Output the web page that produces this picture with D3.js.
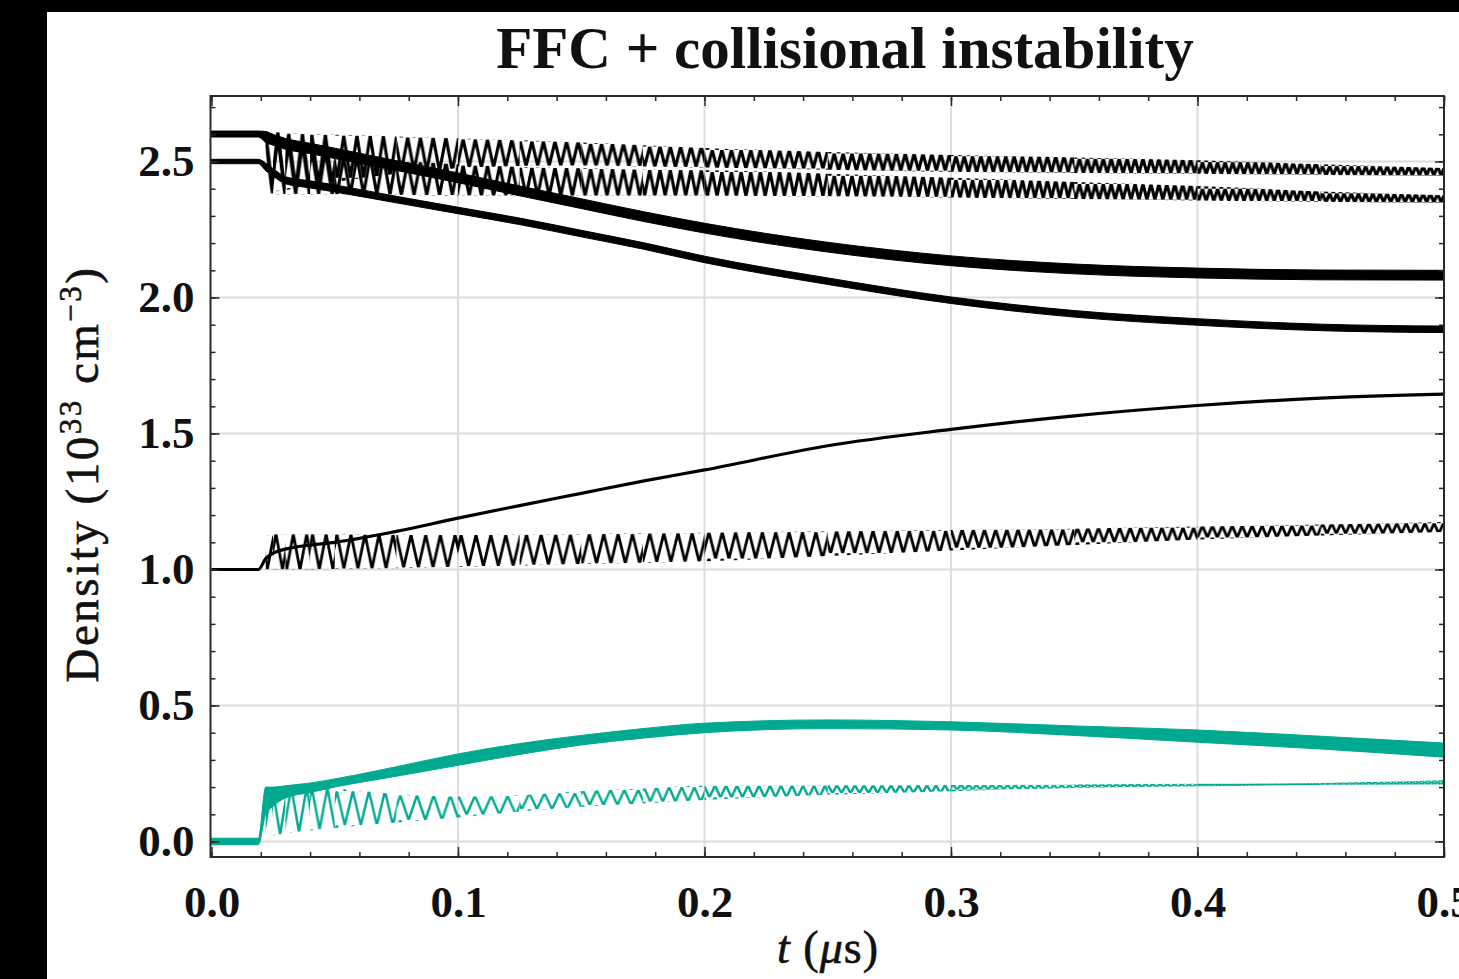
<!DOCTYPE html>
<html>
<head>
<meta charset="utf-8">
<script src="https://cdn.jsdelivr.net/npm/d3@7"></script>
<style>
  html, body { margin: 0; padding: 0; background: #000; }
  svg { display: block; }
</style>
</head>
<body>
<div id="chart"></div>
<script>
// sample times (μs)
const tValues = [0, 0.019, 0.022, 0.025, 0.03, 0.04, 0.05, 0.075, 0.1, 0.125, 0.15, 0.175, 0.2, 0.25, 0.3, 0.35, 0.4, 0.45, 0.5];

// black, oscillating (envelopes)
const oscTopHi = [2.6, 2.6, 2.615, 2.61, 2.605, 2.6, 2.598, 2.592, 2.585, 2.578, 2.57, 2.56, 2.55, 2.535, 2.524, 2.515, 2.505, 2.49, 2.476];
const oscTopLo = [2.6, 2.6, 2.4, 2.39, 2.395, 2.41, 2.425, 2.455, 2.475, 2.483, 2.485, 2.482, 2.478, 2.47, 2.462, 2.458, 2.455, 2.45, 2.447];
const oscMidHi = [2.5, 2.5, 2.6, 2.6, 2.58, 2.55, 2.53, 2.505, 2.49, 2.48, 2.475, 2.47, 2.468, 2.455, 2.44, 2.425, 2.41, 2.39, 2.376];
const oscMidLo = [2.5, 2.5, 2.385, 2.38, 2.38, 2.38, 2.38, 2.378, 2.375, 2.374, 2.374, 2.374, 2.374, 2.372, 2.368, 2.362, 2.357, 2.352, 2.347];
const oscLowHi = [1.0, 1.0, 1.12, 1.13, 1.13, 1.13, 1.13, 1.128, 1.127, 1.128, 1.13, 1.132, 1.135, 1.14, 1.145, 1.15, 1.158, 1.165, 1.175];
const oscLowLo = [1.0, 1.0, 1.0, 1.0, 1.0, 1.0, 1.002, 1.005, 1.01, 1.015, 1.02, 1.025, 1.03, 1.05, 1.07, 1.09, 1.11, 1.125, 1.138];

// black, smooth (thick bands and thin line)
const thickUpperHi = [2.612, 2.612, 2.61, 2.6, 2.585, 2.567, 2.549, 2.503, 2.458, 2.41, 2.363, 2.316, 2.273, 2.203, 2.153, 2.123, 2.108, 2.101, 2.1];
const thickUpperLo = [2.59, 2.59, 2.57, 2.56, 2.545, 2.529, 2.511, 2.467, 2.422, 2.374, 2.327, 2.28, 2.237, 2.167, 2.117, 2.087, 2.072, 2.065, 2.064];
const thickLowerHi = [2.508, 2.508, 2.494, 2.474, 2.444, 2.429, 2.414, 2.372, 2.332, 2.292, 2.247, 2.202, 2.152, 2.072, 2.002, 1.952, 1.922, 1.902, 1.895];
const thickLowerLo = [2.492, 2.492, 2.466, 2.446, 2.418, 2.403, 2.388, 2.348, 2.308, 2.268, 2.223, 2.178, 2.128, 2.048, 1.978, 1.928, 1.898, 1.878, 1.871];
const risingLine = [1.0, 1.0, 1.04, 1.06, 1.075, 1.09, 1.1, 1.14, 1.189, 1.235, 1.28, 1.325, 1.366, 1.455, 1.515, 1.565, 1.603, 1.63, 1.645];

// green
const greenThickHi = [0.012, 0.012, 0.2, 0.2, 0.205, 0.215, 0.23, 0.275, 0.322, 0.36, 0.39, 0.415, 0.435, 0.447, 0.44, 0.425, 0.41, 0.387, 0.362];
const greenThickLo = [-0.012, -0.012, 0.1, 0.13, 0.16, 0.18, 0.2, 0.24, 0.28, 0.32, 0.355, 0.38, 0.4, 0.415, 0.41, 0.39, 0.365, 0.34, 0.31];
const greenOscHi = [0.0, 0.0, 0.15, 0.2, 0.2, 0.2, 0.195, 0.175, 0.165, 0.17, 0.185, 0.195, 0.205, 0.207, 0.208, 0.21, 0.212, 0.215, 0.225];
const greenOscLo = [0.0, 0.0, 0.0, 0.02, 0.03, 0.04, 0.05, 0.07, 0.088, 0.11, 0.128, 0.14, 0.153, 0.172, 0.185, 0.197, 0.203, 0.208, 0.21];

// ticks
const xMajorTicks = [0, 0.1, 0.2, 0.3, 0.4, 0.5];
const yMajorTicks = [0, 0.5, 1.0, 1.5, 2.0, 2.5];
const xGridTicks = [0.1, 0.2, 0.3, 0.4];
const yGridTicks = [0, 0.5, 1.0, 1.5, 2.0, 2.5];

const W = 1459, H = 979;
const box = { left: 210.5, right: 1444, top: 96, bottom: 857 };
const black = "#000", green = "#00a98f", grid = "#dcdcdc", frame = "#2a2a2a";

const svg = d3.select("#chart").append("svg")
    .attr("width", W)
    .attr("height", H);

svg.append("rect")
    .attr("x", 47).attr("y", 12)
    .attr("width", W - 47).attr("height", H - 12)
    .attr("fill", "#fff");

const x = d3.scaleLinear().domain([0, 0.5]).range([211.5, 1444]);
const y = d3.scaleLinear().domain([0, 2.5]).range([841.5, 161.5]);

const defs = svg.append("defs");
defs.append("clipPath").attr("id", "plot-clip")
    .append("rect")
    .attr("x", box.left).attr("y", box.top)
    .attr("width", box.right - box.left).attr("height", box.bottom - box.top);

// grid
const gridG = svg.append("g");
gridG.selectAll("line.vx").data(xGridTicks).enter().append("line")
    .attr("x1", d => x(d)).attr("x2", d => x(d))
    .attr("y1", box.top).attr("y2", box.bottom)
    .attr("stroke", grid).attr("stroke-width", 2);
gridG.selectAll("line.hy").data(yGridTicks).enter().append("line")
    .attr("x1", box.left).attr("x2", box.right)
    .attr("y1", d => y(d)).attr("y2", d => y(d))
    .attr("stroke", grid).attr("stroke-width", 2);

const plot = svg.append("g").attr("clip-path", "url(#plot-clip)");

const band = (lo, hi) => d3.area()
    .x((d, i) => x(tValues[i]))
    .y0((d, i) => y(lo[i]))
    .y1((d, i) => y(hi[i]))
    .curve(d3.curveMonotoneX)(tValues);

const line = vals => d3.line()
    .x((d, i) => x(tValues[i]))
    .y(d => y(d))
    .curve(d3.curveMonotoneX)(vals);

// fast oscillations: the band between the envelopes is filled with a zigzag
// texture, piece by piece, so the zigzag fits the band height locally
let patternCount = 0;
function oscBand(g, lo, hi, color, sw, periodAt) {
    const d = band(lo, hi);
    for (let i = 2; i < tValues.length - 1; i++) {
        const top = y((hi[i] + hi[i + 1]) / 2);
        const bot = y((lo[i] + lo[i + 1]) / 2);
        const h = Math.max(bot - top, 2);
        const w = periodAt((tValues[i] + tValues[i + 1]) / 2);
        const id = "zz" + (patternCount++);
        defs.append("pattern")
            .attr("id", id)
            .attr("patternUnits", "userSpaceOnUse")
            .attr("x", 0).attr("y", top)
            .attr("width", w).attr("height", h)
            .append("path")
            .attr("d", `M0,0L${w / 2},${h}L${w},0`)
            .attr("fill", "none")
            .attr("stroke", color)
            .attr("stroke-width", sw)
            .attr("stroke-linejoin", "round");
        defs.append("clipPath").attr("id", id + "c")
            .append("rect")
            .attr("x", x(tValues[i])).attr("y", box.top)
            .attr("width", x(tValues[i + 1]) - x(tValues[i]))
            .attr("height", box.bottom - box.top);
        g.append("path")
            .attr("d", d)
            .attr("clip-path", `url(#${id}c)`)
            .attr("fill", `url(#${id})`);
    }
}

const periodTop = d3.scaleLinear().domain([0.022, 0.1, 0.2, 0.3, 0.5]).range([14, 12.5, 10, 8.5, 7]);
const periodLow = d3.scaleLinear().domain([0.022, 0.1, 0.2, 0.3, 0.5]).range([13, 15, 14, 11.5, 9]);
const periodGreen = d3.scaleLinear().domain([0.022, 0.1, 0.2, 0.3, 0.5]).range([15, 17, 12, 8, 6]);

// green curves
oscBand(plot, greenOscLo, greenOscHi, green, 2.4, periodGreen);
plot.append("path").attr("d", band(greenThickLo, greenThickHi))
    .attr("fill", green).attr("stroke", green).attr("stroke-width", 1);

// black curves
oscBand(plot, oscLowLo, oscLowHi, black, 2.8, periodLow);
plot.append("path").attr("d", line(risingLine))
    .attr("fill", "none").attr("stroke", black).attr("stroke-width", 3.2);

oscBand(plot, oscTopLo, oscTopHi, black, 3.1, periodTop);
oscBand(plot, oscMidLo, oscMidHi, black, 3.1, periodTop);
plot.append("path").attr("d", band(thickUpperLo, thickUpperHi))
    .attr("fill", black).attr("stroke", black).attr("stroke-width", 1);
plot.append("path").attr("d", band(thickLowerLo, thickLowerHi))
    .attr("fill", black).attr("stroke", black).attr("stroke-width", 1);

// ticks on all four sides, pointing in
const fmt = d3.format(".1f");
const tickFont = "'Liberation Serif', 'Times New Roman', serif";

function styleAxis(g) {
    g.select(".domain").remove();
    g.selectAll(".tick line").attr("stroke", frame).attr("stroke-width", 1.5);
}

const yMinor = d3.range(0, 28).map(i => i / 10);
svg.append("g").attr("transform", `translate(0,${box.bottom})`)
    .call(d3.axisBottom(x).tickValues(x.ticks(25)).tickSize(-5).tickFormat(""))
    .call(styleAxis);
svg.append("g").attr("transform", `translate(0,${box.top})`)
    .call(d3.axisTop(x).tickValues(x.ticks(25)).tickSize(-5).tickFormat(""))
    .call(styleAxis);
svg.append("g").attr("transform", `translate(${box.left},0)`)
    .call(d3.axisLeft(y).tickValues(yMinor).tickSize(-5).tickFormat(""))
    .call(styleAxis);
svg.append("g").attr("transform", `translate(${box.right},0)`)
    .call(d3.axisRight(y).tickValues(yMinor).tickSize(-5).tickFormat(""))
    .call(styleAxis);

const xAxis = svg.append("g").attr("transform", `translate(0,${box.bottom})`)
    .call(d3.axisBottom(x).tickValues(xMajorTicks).tickSize(-10).tickPadding(28).tickFormat(fmt))
    .call(styleAxis);
xAxis.selectAll("text")
    .attr("font-family", tickFont).attr("font-weight", "bold")
    .attr("font-size", 45).attr("fill", "#111");

svg.append("g").attr("transform", `translate(0,${box.top})`)
    .call(d3.axisTop(x).tickValues(xMajorTicks).tickSize(-10).tickFormat(""))
    .call(styleAxis);

const yAxis = svg.append("g").attr("transform", `translate(${box.left},0)`)
    .call(d3.axisLeft(y).tickValues(yMajorTicks).tickSize(-9).tickPadding(16).tickFormat(fmt))
    .call(styleAxis);
yAxis.selectAll("text")
    .attr("font-family", tickFont).attr("font-weight", "bold")
    .attr("font-size", 45).attr("fill", "#111");

svg.append("g").attr("transform", `translate(${box.right},0)`)
    .call(d3.axisRight(y).tickValues(yMajorTicks).tickSize(-9).tickFormat(""))
    .call(styleAxis);

// frame
svg.append("rect")
    .attr("x", box.left).attr("y", box.top)
    .attr("width", box.right - box.left).attr("height", box.bottom - box.top)
    .attr("fill", "none").attr("stroke", frame).attr("stroke-width", 2);

// title
svg.append("text")
    .attr("x", 845).attr("y", 68)
    .attr("text-anchor", "middle")
    .attr("font-family", tickFont).attr("font-weight", "bold")
    .attr("font-size", 59).attr("fill", "#111")
    .text("FFC + collisional instability");

// x label
const xl = svg.append("text")
    .attr("x", 828).attr("y", 963)
    .attr("text-anchor", "middle")
    .attr("font-family", tickFont).attr("font-size", 46)
    .attr("letter-spacing", 1).attr("fill", "#111")
    .attr("stroke", "#111").attr("stroke-width", 0.6);
xl.append("tspan").attr("font-style", "italic").text("t");
xl.append("tspan").text(" (");
xl.append("tspan").attr("font-style", "italic").text("μ");
xl.append("tspan").text("s)");

// y label
const yl = svg.append("text")
    .attr("transform", "translate(98,474) rotate(-90)")
    .attr("text-anchor", "middle")
    .attr("font-family", tickFont).attr("font-size", 47)
    .attr("letter-spacing", 2.5).attr("fill", "#111")
    .attr("stroke", "#111").attr("stroke-width", 0.6);
yl.append("tspan").text("Density (10");
yl.append("tspan").attr("dy", -17).attr("font-size", 31).text("33");
yl.append("tspan").attr("dy", 17).text(" cm");
yl.append("tspan").attr("dy", -17).attr("font-size", 31).text("−3");
yl.append("tspan").attr("dy", 17).text(")");
</script>
</body>
</html>
